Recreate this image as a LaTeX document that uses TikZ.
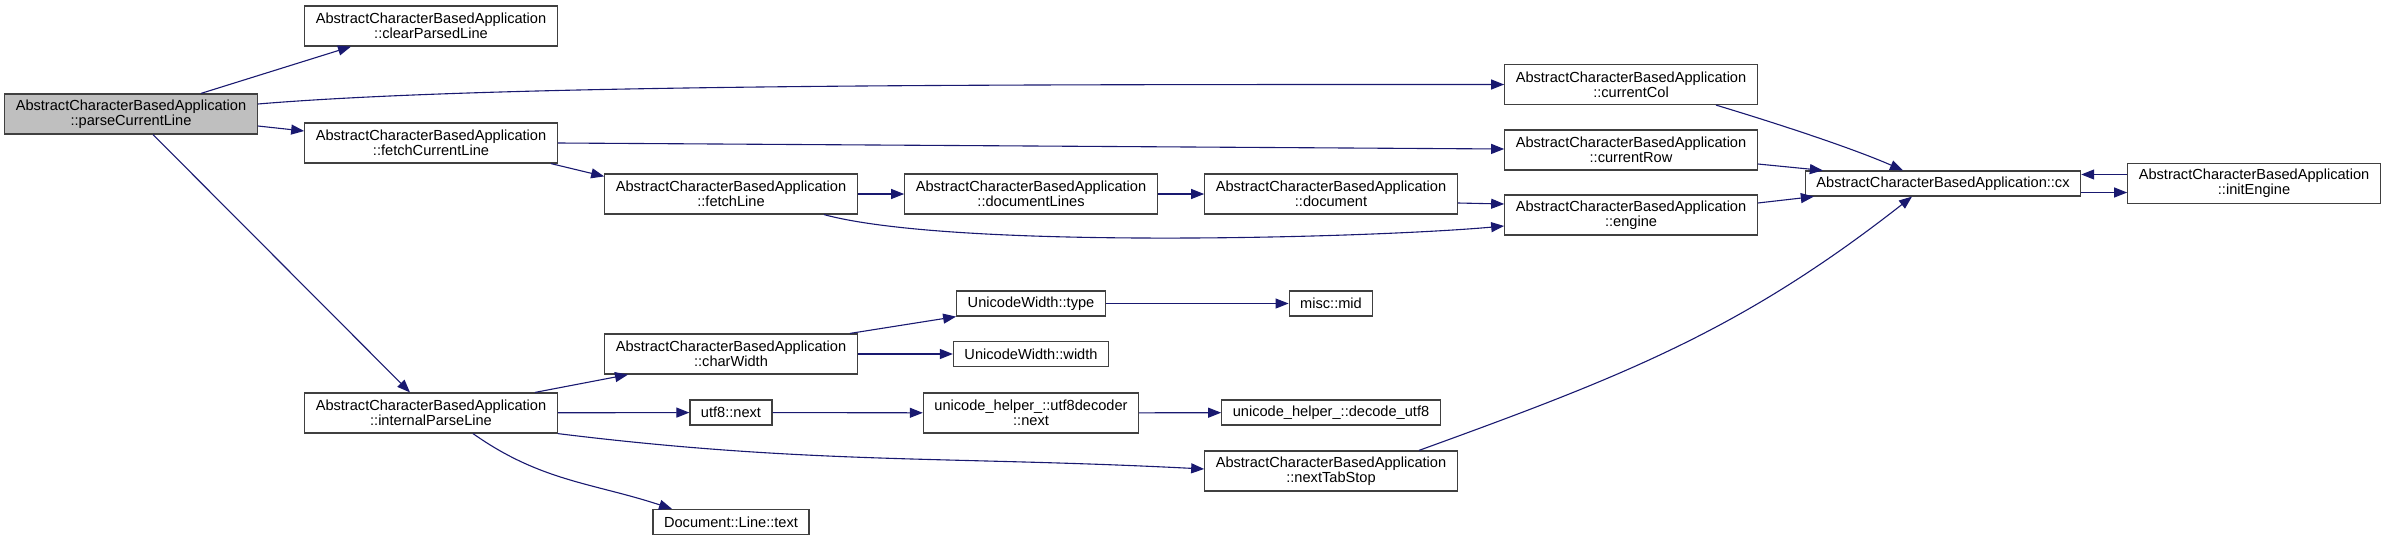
\documentclass[tikz,border=0pt]{standalone}
\usepackage{fontspec}
\setmainfont{Liberation Sans}
\usepackage{xcolor}
\usetikzlibrary{arrows.meta}
\definecolor{edgeblue}{RGB}{25,25,112}

\begin{document}
\begin{tikzpicture}[
  x=1pt, y=-1pt,
  font=\fontsize{14.6}{15}\selectfont,
  >={Triangle[length=13pt,width=10pt]},
  fn/.style={
    draw=black!75,
    line width=1.2pt,
    fill=white,
    align=center,
    inner xsep=11pt,
    inner ysep=2pt,
    minimum height=25pt
  },
  fn2/.style={fn, minimum height=40pt, minimum width=252pt},
  root/.style={fn2, fill=black!25},
  calls/.style={->, line width=1.1pt, edgeblue}
]
  \useasboundingbox (0,0) rectangle (2385,541);

  % Caller and first level
  \node[root] (parse) at (131,114) {AbstractCharacterBasedApplication\\::parseCurrentLine};
  \node[fn2] (clearLine) at (431,26) {AbstractCharacterBasedApplication\\::clearParsedLine};
  \node[fn2] (fetchCur) at (431,143) {AbstractCharacterBasedApplication\\::fetchCurrentLine};
  \node[fn2] (internal) at (431,413) {AbstractCharacterBasedApplication\\::internalParseLine};

  % Fetch chain
  \node[fn2] (fetchLine) at (731,194) {AbstractCharacterBasedApplication\\::fetchLine};
  \node[fn2] (docLines) at (1031,194) {AbstractCharacterBasedApplication\\::documentLines};
  \node[fn2] (document) at (1331,194) {AbstractCharacterBasedApplication\\::document};

  % Accessors
  \node[fn2] (curCol) at (1631,84.5) {AbstractCharacterBasedApplication\\::currentCol};
  \node[fn2] (curRow) at (1631,150) {AbstractCharacterBasedApplication\\::currentRow};
  \node[fn2] (engine) at (1631,215) {AbstractCharacterBasedApplication\\::engine};
  \node[fn] (cx) at (1943,183.5) {AbstractCharacterBasedApplication::cx};
  \node[fn2] (initEngine) at (2254,183.5) {AbstractCharacterBasedApplication\\::initEngine};

  % Parsing helpers
  \node[fn2] (charWidth) at (731,354) {AbstractCharacterBasedApplication\\::charWidth};
  \node[fn] (uwType) at (1031,303.5) {UnicodeWidth::type};
  \node[fn] (uwWidth) at (1031,354) {UnicodeWidth::width};
  \node[fn] (miscMid) at (1331,303.5) {misc::mid};
  \node[fn] (utfNext) at (731,412.5) {utf8::next};
  \node[fn2, minimum width=0pt] (decoderNext) at (1031,413) {unicode\_helper\_::utf8decoder\\::next};
  \node[fn] (decodeUtf) at (1331,412.5) {unicode\_helper\_::decode\_utf8};
  \node[fn2] (nextTab) at (1331,471) {AbstractCharacterBasedApplication\\::nextTabStop};
  \node[fn] (lineText) at (731,522) {Document::Line::text};

  % Calls
  \draw[calls] ([xshift=70pt]parse.north) -- ([xshift=-80pt]clearLine.south);
  \draw[calls] ([yshift=10pt]parse.east) .. controls +(240,-20) and +(-500,0) .. (curCol.west);
  \draw[calls] ([yshift=-12pt]parse.east) -- ([yshift=12pt]fetchCur.west);
  \draw[calls] ([xshift=22pt]parse.south) -- ([xshift=-21pt]internal.north);

  \draw[calls] (fetchCur.east) -- ([yshift=1pt]curRow.west);
  \draw[calls] ([xshift=120pt]fetchCur.south) -- ([yshift=-3pt]fetchLine.north west);
  \draw[calls] (fetchLine) -- (docLines);
  \draw[calls] (docLines) -- (document);
  \draw[calls] ([yshift=-9pt]document.east) -- ([yshift=11pt]engine.west);
  \draw[calls] ([xshift=93pt]fetchLine.south) .. controls +(130,35) and +(-134,12) .. ([yshift=-11pt]engine.west);

  \draw[calls] ([xshift=85pt]curCol.south) .. controls +(60,18) and +(-50,-22) .. ([xshift=-40pt]cx.north);
  \draw[calls] ([yshift=-14pt]curRow.east) -- ([xshift=18pt]cx.north west);
  \draw[calls] ([yshift=12pt]engine.east) -- ([xshift=9pt]cx.south west);
  \draw[calls] ([yshift=9pt]initEngine.west) -- ([yshift=9pt]cx.east);
  \draw[calls] ([yshift=-9pt]cx.east) -- ([yshift=-9pt]initEngine.west);
  \draw[calls] ([xshift=88pt]nextTab.north) .. controls +(204,-74) and +(-171,134) .. ([xshift=-31pt]cx.south);

  \draw[calls] ([xshift=104pt]internal.north) -- ([xshift=-103pt]charWidth.south);
  \draw[calls] (internal) -- (utfNext);
  \draw[calls] (internal.south east) .. controls +(252,31) and +(-253,-13) .. ([yshift=2pt]nextTab.west);
  \draw[calls] ([xshift=42pt]internal.south) .. controls +(68,48) and +(-79,-26) .. ([xshift=-59pt]lineText.north);

  \draw[calls] ([xshift=119pt]charWidth.north) -- (uwType.south west);
  \draw[calls] (charWidth) -- (uwWidth);
  \draw[calls] (uwType) -- (miscMid);
  \draw[calls] (utfNext) -- (decoderNext);
  \draw[calls] (decoderNext) -- (decodeUtf);
\end{tikzpicture}
\end{document}
